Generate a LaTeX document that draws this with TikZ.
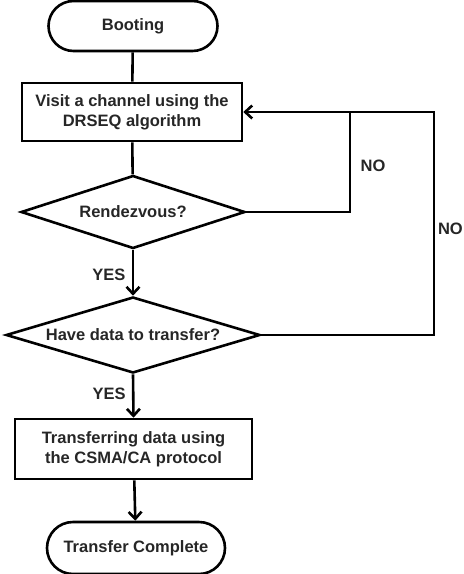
\documentclass[tikz,border=0pt]{standalone}
\usepackage{fontspec}
\setmainfont{Liberation Sans}
\usetikzlibrary{shapes.geometric,shapes.misc,arrows.meta}
\begin{document}
\begin{tikzpicture}[x=1pt,y=-1pt,
  every node/.style={font=\fontsize{16.5}{20}\selectfont\bfseries, text=black!85},
  term/.style={rounded rectangle, draw, line width=2.6pt, inner sep=0pt},
  proc/.style={rectangle, draw, line width=2.6pt, inner sep=0pt, align=center},
  dec/.style={diamond, draw, line width=2.6pt, inner sep=0pt},
  conn/.style={line width=2.6pt},
  arr/.style={conn, -{Straight Barb[length=7pt,width=13pt]}}]
\clip (0,0) rectangle (464,574);
\useasboundingbox (0,0) rectangle (464,574);
\node[term, minimum width=169pt, minimum height=50pt] (boot) at (133,26) {Booting};
\node[proc, minimum width=220pt, minimum height=58pt] (visit) at (132,112) {Visit a channel using the\\DRSEQ algorithm};
\node[dec, minimum width=224pt, minimum height=73pt] (d1) at (133,212) {};
\node at (d1) {Rendezvous?};
\node[dec, minimum width=254pt, minimum height=76pt] (d2) at (133,335) {};
\node at (d2) {Have data to transfer?};
\node[proc, minimum width=237pt, minimum height=60pt] (xfer) at (133.5,449) {Transferring data using\\the CSMA/CA protocol};
\node[term, minimum width=178pt, minimum height=52pt] (done) at (136,548) {Transfer Complete};
\coordinate (c1) at (350,112);
\coordinate (c2) at (434,112);
\draw[conn] (boot) -- (visit);
\draw[conn] (visit) -- (d1);
\draw[arr] (d1.south) -- (d2.north) node[pos=0.55, left=3pt] (yes1) {YES};
\draw[arr] (d2.south) -- (xfer.north) node[pos=0.45, left=3pt] (yes2) {YES};
\draw[arr] (xfer) -- (done);
\draw[arr] (d1.east) -| (c1) -- (visit.east);
\draw[conn] (d2.east) -| (c2) -- (c1);
\node (no1) at (373,166) {NO};
\node[anchor=east, inner sep=1pt] (no2) at (464,229) {NO};
\end{tikzpicture}
\end{document}
